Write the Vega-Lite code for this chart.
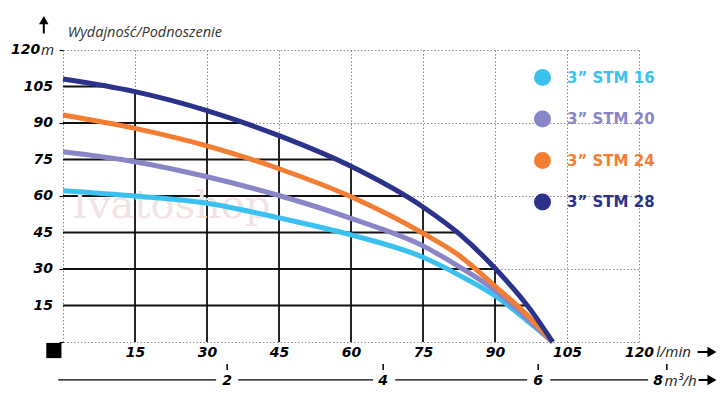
{
  "$schema": "https://vega.github.io/schema/vega-lite/v6.json",
  "width": 576,
  "height": 292,
  "autosize": {"type": "none"},
  "padding": {"left": 63, "top": 50, "right": 88, "bottom": 57},
  "background": "white",
  "datasets": {
    "curves": [
      {"model": "3” STM 16", "q": 0, "h": 62.2},
      {"model": "3” STM 16", "q": 15, "h": 60.0},
      {"model": "3” STM 16", "q": 30, "h": 57.0},
      {"model": "3” STM 16", "q": 45, "h": 51.0},
      {"model": "3” STM 16", "q": 60, "h": 44.0},
      {"model": "3” STM 16", "q": 75, "h": 34.8},
      {"model": "3” STM 16", "q": 82.5, "h": 27.5},
      {"model": "3” STM 16", "q": 90, "h": 19.0},
      {"model": "3” STM 16", "q": 97.5, "h": 7.5},
      {"model": "3” STM 16", "q": 102, "h": 0},
      {"model": "3” STM 20", "q": 0, "h": 78.2},
      {"model": "3” STM 20", "q": 15, "h": 74.1},
      {"model": "3” STM 20", "q": 30, "h": 67.9},
      {"model": "3” STM 20", "q": 45, "h": 60.2},
      {"model": "3” STM 20", "q": 60, "h": 50.8},
      {"model": "3” STM 20", "q": 75, "h": 39.5},
      {"model": "3” STM 20", "q": 82.5, "h": 31.0},
      {"model": "3” STM 20", "q": 90, "h": 21.2},
      {"model": "3” STM 20", "q": 97.5, "h": 8.2},
      {"model": "3” STM 20", "q": 102, "h": 0},
      {"model": "3” STM 24", "q": 0, "h": 93.3},
      {"model": "3” STM 24", "q": 15, "h": 87.8},
      {"model": "3” STM 24", "q": 30, "h": 80.6},
      {"model": "3” STM 24", "q": 45, "h": 71.2},
      {"model": "3” STM 24", "q": 60, "h": 59.7},
      {"model": "3” STM 24", "q": 75, "h": 44.7},
      {"model": "3” STM 24", "q": 82.5, "h": 35.6},
      {"model": "3” STM 24", "q": 90, "h": 23.0},
      {"model": "3” STM 24", "q": 97.5, "h": 9.5},
      {"model": "3” STM 24", "q": 102, "h": 0},
      {"model": "3” STM 28", "q": 0, "h": 108.1},
      {"model": "3” STM 28", "q": 15, "h": 102.9},
      {"model": "3” STM 28", "q": 30, "h": 95.1},
      {"model": "3” STM 28", "q": 45, "h": 84.8},
      {"model": "3” STM 28", "q": 60, "h": 72.2},
      {"model": "3” STM 28", "q": 75, "h": 55.5},
      {"model": "3” STM 28", "q": 82.5, "h": 44.5},
      {"model": "3” STM 28", "q": 90, "h": 30.3},
      {"model": "3” STM 28", "q": 97.5, "h": 13.0},
      {"model": "3” STM 28", "q": 102, "h": 0}
    ],
    "vgrid": [
      {"q": 15, "top": 102.9},
      {"q": 30, "top": 95.1},
      {"q": 45, "top": 84.8},
      {"q": 60, "top": 72.2},
      {"q": 75, "top": 55.5},
      {"q": 90, "top": 30.3}
    ],
    "hgrid": [
      {"h": 15, "right": 96.8},
      {"h": 30, "right": 90.1},
      {"h": 45, "right": 82.3},
      {"h": 60, "right": 71.0},
      {"h": 75, "right": 56.5},
      {"h": 90, "right": 37.5},
      {"h": 105, "right": 8.0}
    ],
    "ylabels": [
      {"h": 15}, {"h": 30}, {"h": 45}, {"h": 60}, {"h": 75}, {"h": 90}, {"h": 105}
    ],
    "m3ticks": [
      {"m3": "2", "q": 34.2},
      {"m3": "4", "q": 66.7},
      {"m3": "6", "q": 99.0},
      {"m3": "8", "q": 125.8}
    ],
    "m3labels": [
      {"m3": "2", "q": 34.2},
      {"m3": "4", "q": 66.7},
      {"m3": "6", "q": 99.0},
      {"m3": "8", "q": 124.0}
    ],
    "m3line": [
      {"from": -1.0, "to": 31.9},
      {"from": 36.5, "to": 64.6},
      {"from": 69.2, "to": 96.7},
      {"from": 101.5, "to": 121.9}
    ],
    "one": [{"k": 1}]
  },
  "layer": [
    {
      "data": {"name": "vgrid"},
      "mark": {"type": "rule", "color": "#111", "strokeWidth": 1.8},
      "encoding": {
        "x": {"field": "q", "type": "quantitative", "title": null, "scale": {"domain": [0, 120], "nice": false, "zero": false},
          "axis": {"values": [0, 7.5, 15, 22.5, 30, 37.5, 45, 52.5, 60, 67.5, 75, 82.5, 90, 97.5, 105, 112.5, 120], "labelOverlap": false}},
        "y": {"field": "top", "type": "quantitative", "title": null, "scale": {"domain": [0, 120], "nice": false, "zero": false},
          "axis": {"values": [0, 15, 30, 45, 60, 75, 90, 105, 120], "labels": false}},
        "y2": {"datum": 0}
      }
    },
    {
      "data": {"name": "hgrid"},
      "mark": {"type": "rule", "color": "#111", "strokeWidth": 1.8},
      "encoding": {
        "x": {"field": "right", "type": "quantitative", "title": null},
        "x2": {"datum": 0},
        "y": {"field": "h", "type": "quantitative", "title": null}
      }
    },
    {
      "data": {"name": "one"},
      "mark": {"type": "text", "text": "Ivatoshop", "font": "DejaVu Serif", "fontSize": 40, "color": "#f1e3e3", "align": "left", "baseline": "alphabetic"},
      "encoding": {
        "x": {"datum": 1.9, "type": "quantitative"},
        "y": {"datum": 51, "type": "quantitative"}
      }
    },
    {
      "data": {"name": "curves"},
      "mark": {"type": "line", "interpolate": "monotone", "strokeCap": "butt", "strokeWidth": 5},
      "encoding": {
        "x": {"field": "q", "type": "quantitative", "title": null},
        "y": {"field": "h", "type": "quantitative", "title": null},
        "color": {
          "field": "model",
          "type": "nominal",
          "scale": {
            "domain": ["3” STM 16", "3” STM 20", "3” STM 24", "3” STM 28"],
            "range": ["#3bc1ef", "#8985c6", "#f37d33", "#2a328a"]
          },
          "legend": {
            "orient": "none",
            "legendX": 471,
            "legendY": 19,
            "title": null,
            "padding": 0,
            "symbolType": "circle",
            "symbolSize": 289,
            "labelFont": "DejaVu Sans",
            "labelFontSize": 15,
            "labelFontWeight": "bold",
            "labelOffset": 16,
            "rowPadding": 24.5,
            "encode": {
              "symbols": {"update": {"fill": {"scale": "color", "field": "value"}, "strokeWidth": {"value": 0}, "opacity": {"value": 1}}},
              "labels": {"update": {"fill": {"scale": "color", "field": "value"}}}
            }
          }
        }
      }
    },
    {
      "data": {"name": "ylabels"},
      "mark": {"type": "text", "font": "DejaVu Sans", "fontStyle": "italic", "fontWeight": "bold", "fontSize": 14, "color": "#000", "align": "right", "baseline": "middle"},
      "encoding": {"x": {"datum": -2.1, "type": "quantitative"}, "y": {"field": "h", "type": "quantitative"}, "text": {"field": "h", "type": "quantitative"}}
    },
    {
      "data": {"name": "one"},
      "mark": {"type": "text", "text": "Wydajność/Podnoszenie", "font": "Open Sans", "fontStyle": "italic", "fontSize": 14.5, "color": "#333", "align": "left", "baseline": "alphabetic"},
      "encoding": {"x": {"datum": 1.0, "type": "quantitative"}, "y": {"datum": 125.4, "type": "quantitative"}}
    },
    {
      "data": {"name": "one"},
      "mark": {"type": "text", "text": "120", "font": "DejaVu Sans", "fontStyle": "italic", "fontWeight": "bold", "fontSize": 14, "color": "#000", "align": "right", "baseline": "middle"},
      "encoding": {"x": {"datum": -4.75, "type": "quantitative"}, "y": {"datum": 120, "type": "quantitative"}}
    },
    {
      "data": {"name": "one"},
      "mark": {"type": "text", "text": "m", "font": "Open Sans", "fontStyle": "italic", "fontSize": 15, "color": "#222", "align": "left", "baseline": "middle"},
      "encoding": {"x": {"datum": -4.6, "type": "quantitative"}, "y": {"datum": 120, "type": "quantitative"}}
    },
    {
      "data": {"name": "one"},
      "mark": {"type": "text", "text": "l/min", "font": "Open Sans", "fontStyle": "italic", "fontSize": 15, "color": "#222", "align": "left", "baseline": "middle"},
      "encoding": {"x": {"datum": 123.6, "type": "quantitative"}, "y": {"datum": -4.1, "type": "quantitative"}}
    },
    {
      "data": {"name": "one"},
      "mark": {"type": "rule", "color": "#000", "strokeWidth": 2},
      "encoding": {"x": {"datum": 132.2, "type": "quantitative"}, "x2": {"datum": 134.5}, "y": {"datum": -4.1, "type": "quantitative"}}
    },
    {
      "data": {"name": "one"},
      "mark": {"type": "point", "shape": "triangle-right", "size": 110, "filled": true, "color": "#000", "opacity": 1},
      "encoding": {"x": {"datum": 135.2, "type": "quantitative"}, "y": {"datum": -4.1, "type": "quantitative"}}
    },
    {
      "data": {"name": "m3line"},
      "mark": {"type": "rule", "color": "#000", "strokeWidth": 1.3},
      "encoding": {"x": {"field": "from", "type": "quantitative"}, "x2": {"field": "to"}, "y": {"datum": -15.6, "type": "quantitative"}}
    },
    {
      "data": {"name": "m3ticks"},
      "mark": {"type": "rule", "color": "#000", "strokeWidth": 1.5},
      "encoding": {"x": {"field": "q", "type": "quantitative"}, "y": {"datum": -9.0, "type": "quantitative"}, "y2": {"datum": -11.5}}
    },
    {
      "data": {"name": "m3labels"},
      "mark": {"type": "text", "font": "DejaVu Sans", "fontStyle": "italic", "fontWeight": "bold", "fontSize": 14, "color": "#000", "align": "center", "baseline": "middle"},
      "encoding": {"x": {"field": "q", "type": "quantitative"}, "y": {"datum": -16.0, "type": "quantitative"}, "text": {"field": "m3", "type": "nominal"}}
    },
    {
      "data": {"name": "one"},
      "mark": {"type": "text", "text": "m³/h", "font": "Open Sans", "fontStyle": "italic", "fontSize": 15, "color": "#222", "align": "left", "baseline": "middle"},
      "encoding": {"x": {"datum": 125.3, "type": "quantitative"}, "y": {"datum": -16.0, "type": "quantitative"}}
    },
    {
      "data": {"name": "one"},
      "mark": {"type": "rule", "color": "#000", "strokeWidth": 2},
      "encoding": {"x": {"datum": 132.4, "type": "quantitative"}, "x2": {"datum": 134.5}, "y": {"datum": -15.6, "type": "quantitative"}}
    },
    {
      "data": {"name": "one"},
      "mark": {"type": "point", "shape": "triangle-right", "size": 110, "filled": true, "color": "#000", "opacity": 1},
      "encoding": {"x": {"datum": 135.2, "type": "quantitative"}, "y": {"datum": -15.6, "type": "quantitative"}}
    },
    {
      "data": {"name": "one"},
      "mark": {"type": "point", "shape": "square", "size": 230, "filled": true, "color": "#000", "opacity": 1},
      "encoding": {"x": {"datum": -1.9, "type": "quantitative"}, "y": {"datum": -3.5, "type": "quantitative"}}
    },
    {
      "data": {"name": "one"},
      "mark": {"type": "rule", "color": "#000", "strokeWidth": 2},
      "encoding": {"x": {"datum": -4.0, "type": "quantitative"}, "y": {"datum": 126.8, "type": "quantitative"}, "y2": {"datum": 131.0}}
    },
    {
      "data": {"name": "one"},
      "mark": {"type": "point", "shape": "triangle-up", "size": 90, "filled": true, "color": "#000", "opacity": 1},
      "encoding": {"x": {"datum": -4.0, "type": "quantitative"}, "y": {"datum": 132.3, "type": "quantitative"}}
    }
  ],
  "config": {
    "view": {"stroke": null},
    "axisX": {
      "grid": true,
      "gridDash": [1.5, 2],
      "gridColor": "#8a8a8a",
      "gridWidth": 1,
      "domain": false,
      "ticks": false,
      "labelExpr": "datum.value % 15 == 0 && datum.value > 0 ? datum.label : ''",
      "labelFont": "DejaVu Sans",
      "labelFontSize": 14,
      "labelFontWeight": "bold",
      "labelFontStyle": "italic",
      "labelColor": "#000",
      "labelPadding": 3,
      "labelFlush": false,
      "labelOverlap": false
    },
    "axisY": {
      "grid": true,
      "gridDash": [1.5, 2],
      "gridColor": "#8a8a8a",
      "gridWidth": 1,
      "domain": false,
      "ticks": true,
      "tickSize": 4,
      "tickColor": "#000",
      "tickWidth": 1.2
    }
  }
}
